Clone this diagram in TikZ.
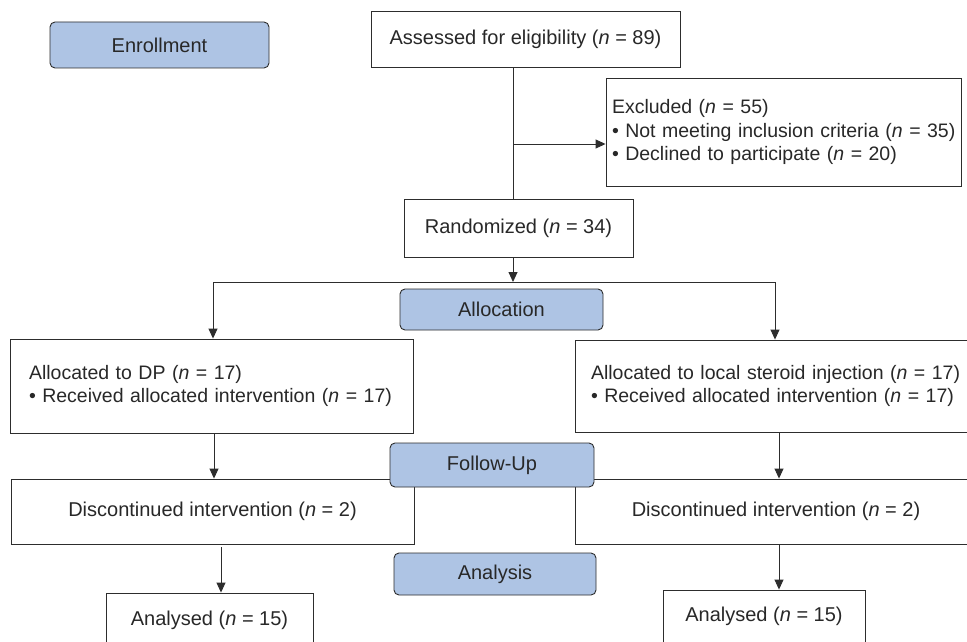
\documentclass[tikz,border=0pt]{standalone}
\usepackage{fontspec}
\setmainfont{Liberation Sans}
\usetikzlibrary{arrows.meta}
\definecolor{phase}{RGB}{174,196,228}
\definecolor{ink}{RGB}{40,40,40}
\definecolor{edgec}{RGB}{45,45,45}
\begin{document}
\begin{tikzpicture}[x=1pt,y=-1pt,
  font=\fontsize{20}{23.5}\selectfont, text=ink,
  box/.style={draw=edgec, line width=0.9pt, fill=white, inner sep=0pt, align=center},
  listbox/.style={box, align=left, font=\fontsize{19.5}{23.5}\selectfont},
  phasebox/.style={box, fill=phase, rounded corners=5pt},
  conn/.style={draw=edgec, line width=0.9pt},
  arr/.style={conn, -{Triangle[length=10pt,width=9pt]}}]
\useasboundingbox (0,0) rectangle (967,642);
\fill[white] (0,0) rectangle (967,642);

% boxes
\node[phasebox, minimum width=219pt, minimum height=46pt] (enroll) at (159.5,45) {Enrollment};
\node[box, minimum width=309pt, minimum height=56pt] (assess) at (525.5,39) {Assessed for eligibility (\textit{n} = 89)};
\node[listbox, minimum width=355pt, minimum height=108pt, text width=343pt, inner xsep=6pt] (excl) at (783.5,132)
  {Excluded (\textit{n} = 55)\\\mbox{• Not meeting inclusion criteria (\textit{n} = 35)}\\• Declined to participate (\textit{n} = 20)};
\node[box, minimum width=229pt, minimum height=58pt] (rand) at (518.5,228) {Randomized (\textit{n} = 34)};
\node[phasebox, minimum width=203pt, minimum height=41pt] (alloc) at (501.5,309.5) {Allocation};
\node[listbox, minimum width=403pt, minimum height=94pt, text width=365pt, inner xsep=19pt] (dp) at (211.5,386)
  {Allocated to DP (\textit{n} = 17)\\\mbox{• Received allocated intervention (\textit{n} = 17)}};
\node[listbox, minimum width=402pt, minimum height=92pt, text width=370pt, inner xsep=16pt] (ster) at (776,386)
  {\mbox{Allocated to local steroid injection (\textit{n} = 17)}\\\mbox{• Received allocated intervention (\textit{n} = 17)}};
\node[box, minimum width=403pt, minimum height=65pt] (discL) at (212.5,511.5) {Discontinued intervention (\textit{n} = 2)};
\node[box, minimum width=402pt, minimum height=65pt] (discR) at (776,511.5) {Discontinued intervention (\textit{n} = 2)};
\node[phasebox, minimum width=204pt, minimum height=44pt] (follow) at (492,465) {Follow-Up};
\node[phasebox, minimum width=202pt, minimum height=42pt] (analysis) at (495,574) {Analysis};
\node[box, minimum width=207pt, minimum height=54pt] (anL) at (209.5,620) {Analysed (\textit{n} = 15)};
\node[box, minimum width=202pt, minimum height=52pt] (anR) at (764,616) {Analysed (\textit{n} = 15)};

% helper coordinates
\coordinate (trunk) at (513,0);
\coordinate (branch) at (513,144);
\coordinate (split) at (513,282);
\coordinate (splitL) at (213,282);
\coordinate (splitR) at (775,282);
\coordinate (colL) at (214,0);
\coordinate (colLb) at (221,547);
\coordinate (colR) at (779,0);

% connectors
\draw[conn] (assess.south -| trunk) -- (rand.north -| trunk);
\draw[arr] (branch) -- (excl.west |- branch);
\draw[arr] (rand.south -| trunk) -- (split);
\draw[conn] (splitL) -- (splitR);
\draw[arr] (splitL) -- (dp.north -| splitL);
\draw[arr] (splitR) -- (ster.north -| splitR);
\draw[arr] (dp.south -| colL) -- (discL.north -| colL);
\draw[arr] (colLb) -- (anL.north -| colLb);
\draw[arr] (ster.south -| colR) -- (discR.north -| colR);
\draw[arr] (discR.south -| colR) -- (anR.north -| colR);
\end{tikzpicture}
\end{document}
